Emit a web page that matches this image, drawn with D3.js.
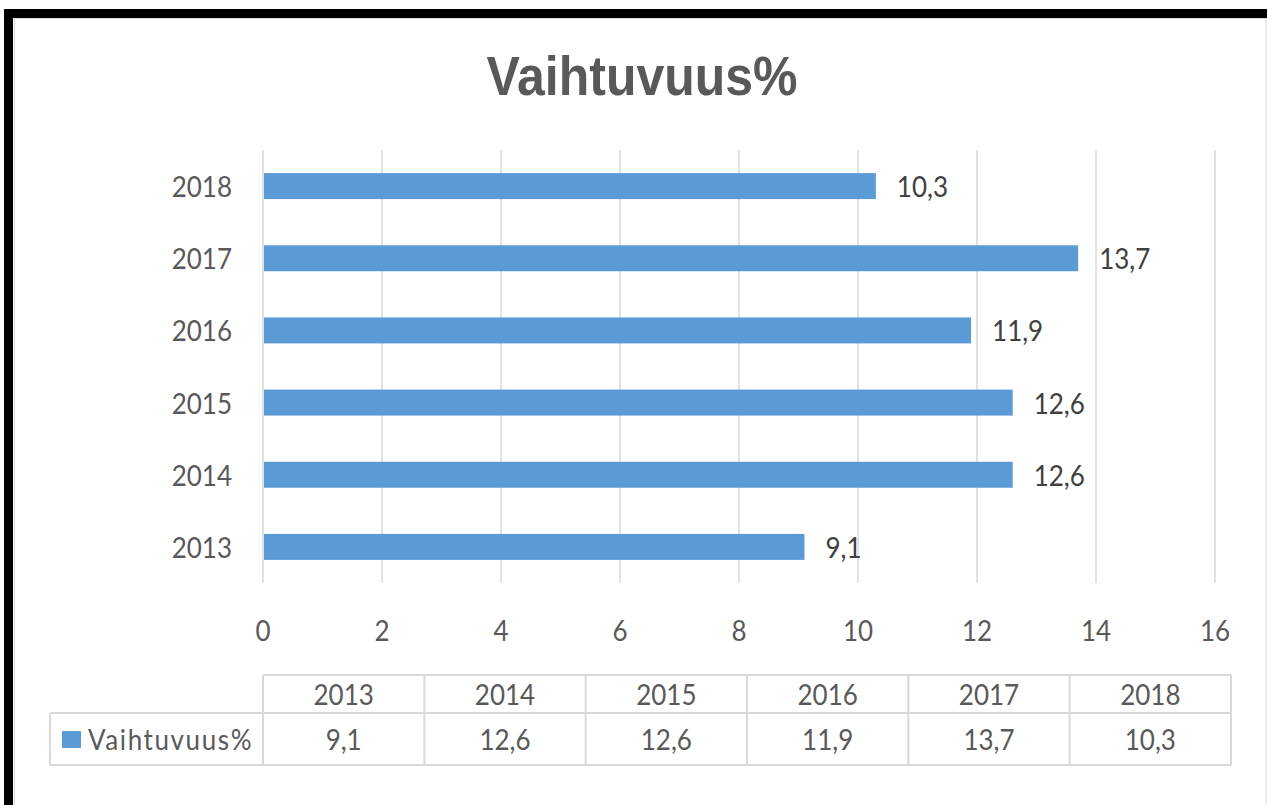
<!DOCTYPE html>
<html>
<head>
<meta charset="utf-8">
<script src="https://cdn.jsdelivr.net/npm/d3@7"></script>
<style>
  body { margin: 0; background: #fff; }
  svg { display: block; }
</style>
</head>
<body>
<div id="viz_div"></div>
<script>
// DATA
// -----------------------------------------------------------------------------
const years = ["2013", "2014", "2015", "2016", "2017", "2018"];
const values = [9.1, 12.6, 12.6, 11.9, 13.7, 10.3];
const xTicks = [0, 2, 4, 6, 8, 10, 12, 14, 16];
const seriesName = "Vaihtuvuus%";
const chartTitle = "Vaihtuvuus%";

const fmt = v => String(v).replace(".", ",");

const W = 1267, H = 805;
const font = "Lato, 'Open Sans', sans-serif";
const stretch = 1.1; // picture is a bit taller than wide

const svg = d3.select("#viz_div").append("svg")
  .attr("width", W)
  .attr("height", H);

// FRAME
// -----------------------------------------------------------------------------
svg.append("rect").attr("x", 0).attr("y", 0).attr("width", W).attr("height", H).attr("fill", "#fff");
svg.append("rect").attr("x", 14.5).attr("y", 18.5).attr("width", W - 15.5).attr("height", H - 17)
  .attr("fill", "#fff").attr("stroke", "#d9d9d9").attr("stroke-width", 1);
svg.append("rect").attr("x", 4).attr("y", 9).attr("width", W - 4).attr("height", 9).attr("fill", "#000");
svg.append("rect").attr("x", 4).attr("y", 9).attr("width", 9).attr("height", H - 9).attr("fill", "#000");

// helper: text with a small vertical stretch
function label(g, x, y, txt, opts) {
  return g.append("text")
    .attr("transform", `translate(${x},${y}) scale(1,${stretch})`)
    .attr("text-anchor", opts.anchor || "middle")
    .attr("dominant-baseline", "central")
    .style("font-family", opts.family || font)
    .style("font-size", (opts.size || 26) + "px")
    .style("font-weight", opts.weight || "normal")
    .style("fill", opts.color || "#595959")
    .text(txt);
}

// TITLE
// -----------------------------------------------------------------------------
svg.append("text")
  .attr("transform", `translate(642,95) scale(1,1.12)`)
  .attr("text-anchor", "middle")
  .style("font-family", "'Liberation Sans', Arial, sans-serif")
  .style("font-size", "50px")
  .style("font-weight", "bold")
  .style("fill", "#595959")
  .text(chartTitle);

// SCALES
// -----------------------------------------------------------------------------
const plot = { left: 263, right: 1215, top: 150, bottom: 583 };
const x = d3.scaleLinear([0, 16], [plot.left, plot.right]);
const y = d3.scaleBand(years.slice().reverse(), [plot.top, plot.bottom]).paddingInner(0.64).paddingOuter(0.32);

// GRIDLINES
// -----------------------------------------------------------------------------
svg.append("g").selectAll("line")
  .data(xTicks)
  .join("line")
  .attr("x1", d => x(d)).attr("x2", d => x(d))
  .attr("y1", plot.top).attr("y2", plot.bottom)
  .attr("stroke", "#d9d9d9")
  .attr("stroke-width", 1.5);

// BARS
// -----------------------------------------------------------------------------
svg.append("g").selectAll("rect")
  .data(years)
  .join("rect")
  .attr("x", x(0) + 1)
  .attr("y", d => y(d))
  .attr("width", (d, i) => x(values[i]) - x(0) - 1)
  .attr("height", y.bandwidth())
  .attr("fill", "#5b9bd5");

// DATA LABELS
const dl = svg.append("g");
years.forEach((yr, i) => {
  label(dl, x(values[i]) + 21, y(yr) + y.bandwidth() / 2, fmt(values[i]), { anchor: "start", color: "#404040" });
});

// AXES LABELS
// -----------------------------------------------------------------------------
const ya = svg.append("g");
years.forEach(yr => label(ya, 232, y(yr) + y.bandwidth() / 2, yr, { anchor: "end" }));

const xa = svg.append("g");
xTicks.forEach(t => label(xa, x(t), 630, t, {}));

// DATA TABLE
// -----------------------------------------------------------------------------
const table = { left: 50, first: 263, right: 1231, top: 675, mid: 713, bottom: 765 };
const col = d3.scaleBand(years, [table.first, table.right]);
const tg = svg.append("g").attr("fill", "none").attr("stroke", "#d9d9d9").attr("stroke-width", 2);

// horizontal lines
tg.append("line").attr("x1", table.first).attr("x2", table.right).attr("y1", table.top).attr("y2", table.top);
tg.append("line").attr("x1", table.left).attr("x2", table.right).attr("y1", table.mid).attr("y2", table.mid);
tg.append("line").attr("x1", table.left).attr("x2", table.right).attr("y1", table.bottom).attr("y2", table.bottom);
// vertical lines
tg.append("line").attr("x1", table.left).attr("x2", table.left).attr("y1", table.mid).attr("y2", table.bottom);
tg.selectAll("line.v")
  .data(years.concat(["end"]))
  .join("line")
  .attr("class", "v")
  .attr("x1", (d, i) => i < years.length ? col(d) : table.right)
  .attr("x2", (d, i) => i < years.length ? col(d) : table.right)
  .attr("y1", table.top).attr("y2", table.bottom);

const tt = svg.append("g");
years.forEach((yr, i) => {
  label(tt, col(yr) + col.bandwidth() / 2, (table.top + table.mid) / 2, yr, {});
  label(tt, col(yr) + col.bandwidth() / 2, (table.mid + table.bottom) / 2, fmt(values[i]), {});
});

// legend key in table
svg.append("rect").attr("x", 62).attr("y", 731).attr("width", 19).attr("height", 17).attr("fill", "#5b9bd5");
label(tt, 88, (table.mid + table.bottom) / 2, seriesName, { anchor: "start" })
  .style("letter-spacing", "1.6px");
</script>
</body>
</html>
